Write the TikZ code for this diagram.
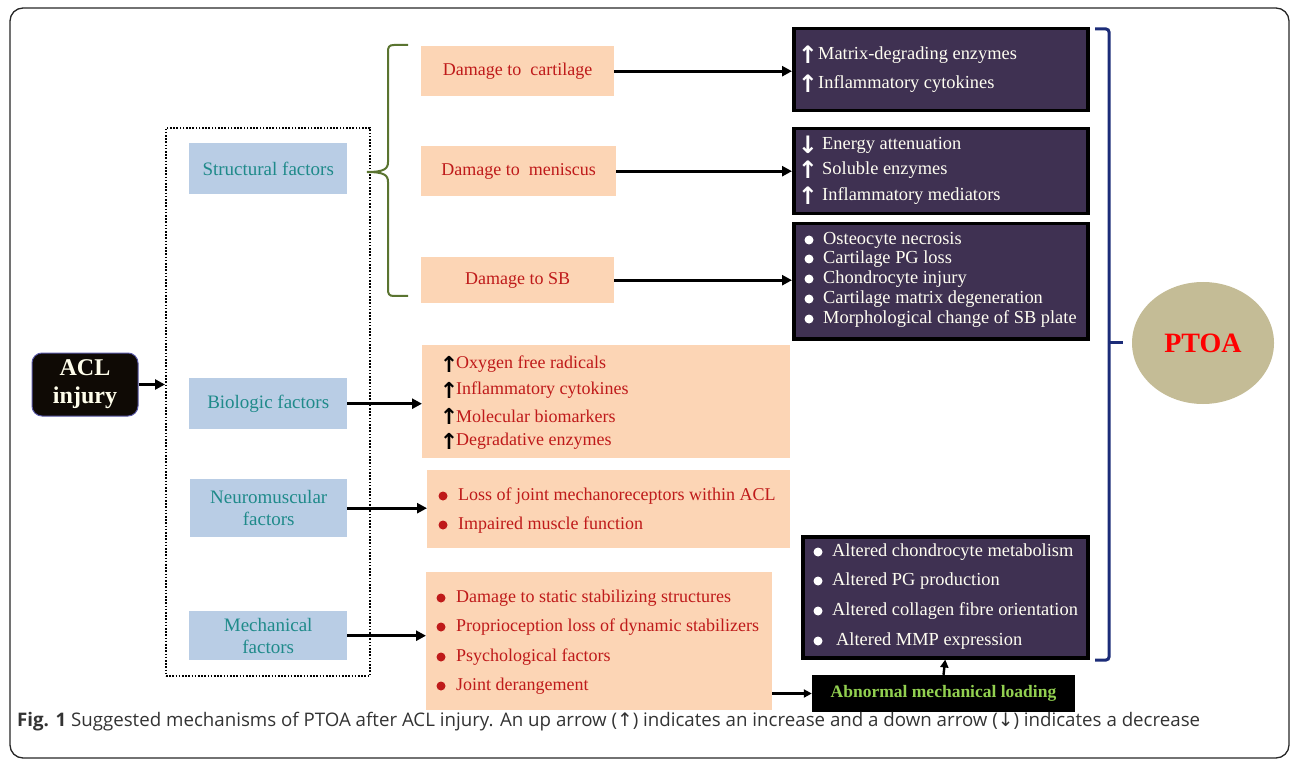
\documentclass[tikz,border=0pt]{standalone}
\usepackage{fontspec}
\setmainfont{Liberation Serif}
\setsansfont{Open Sans}
\newfontfamily\symf{DejaVu Sans}
\usetikzlibrary{arrows.meta,shapes.geometric}
\definecolor{peach}{HTML}{FCD5B5}
\definecolor{lblue}{HTML}{B9CDE5}
\definecolor{teal2}{HTML}{1F8A8A}
\definecolor{dred}{HTML}{BF1A1A}
\definecolor{dpurple}{HTML}{3F3152}
\definecolor{bgreen}{HTML}{5A7430}
\definecolor{navy}{HTML}{1C2C78}
\definecolor{khaki}{HTML}{C4BC96}
\definecolor{lgreen}{HTML}{92D050}
\definecolor{capgray}{HTML}{333333}
\begin{document}
\begin{tikzpicture}[x=1pt,y=-1pt,
  peachbox/.style={rectangle, fill=peach, inner sep=0, anchor=north west},
  bluebox/.style={rectangle, fill=lblue, inner sep=0, anchor=north west, text=teal2, align=center, font=\fontsize{19}{22}\selectfont},
  darkbox/.style={rectangle, fill=dpurple, draw=black, line width=3.5pt, inner sep=0, anchor=north west},
  rlabel/.style={text=dred, font=\fontsize{18}{20}\selectfont},
  wt/.style={text=white!95!yellow, anchor=west, inner sep=0, font=\fontsize{18.4}{20}\selectfont},
  rt/.style={text=dred, anchor=west, inner sep=0, font=\fontsize{18}{20}\selectfont},
  symw/.style={text=white, inner sep=0, font=\fontsize{24}{24}\symf\bfseries},
  symk/.style={text=black, inner sep=0, font=\fontsize{22}{22}\symf\bfseries},
  bulw/.style={circle, fill=white, inner sep=0, minimum size=9pt},
  bulr/.style={circle, fill=dred, inner sep=0, minimum size=9pt},
  arr/.style={line width=3pt, -{Triangle[length=10pt,width=10pt]}},
  sarr/.style={line width=2.4pt, -{Triangle[length=8pt,width=8pt]}}
]
\useasboundingbox (0,0) rectangle (1290,759);
\draw[line width=1.3pt, draw=black!85, rounded corners=13pt] (10,8) rectangle (1289,758);

% ACL injury
\node[rectangle, rounded corners=10pt, fill=black!92!brown, draw=blue!30!gray, line width=1pt,
  minimum width=106pt, minimum height=63pt, inner sep=0, text=white!92!yellow, align=center,
  font=\fontsize{24}{28}\selectfont\bfseries] (acl) at (85,384.5) {ACL\\injury};

% dotted group
\node[rectangle, draw=black, line width=1.8pt, dash pattern=on 1.6pt off 1.6pt,
  minimum width=204pt, minimum height=548pt, inner sep=0, anchor=north west] (grp) at (165,127) {};
\draw[arr] (acl.east) -- (acl.east -| grp.west);

% factor boxes
\node[bluebox, minimum width=158pt, minimum height=51pt] (st) at (189,143) {Structural factors};
\node[bluebox, minimum width=158pt, minimum height=51pt] (bio) at (189,378) {Biologic factors};
\node[bluebox, minimum width=157pt, minimum height=58pt] (neu) at (190,479) {Neuromuscular\\factors};
\node[bluebox, minimum width=158pt, minimum height=49pt] (mech) at (189,611) {Mechanical\\factors};

% green brace
\draw[bgreen, line width=2pt] (408,45) -- (394,45) .. controls (389,45) and (388,47) .. (388,52)
  -- (388,162) .. controls (388,169) and (384,172) .. (367,172)
  .. controls (384,172) and (388,175) .. (388,182)
  -- (388,289) .. controls (388,294) and (389,296) .. (394,296) -- (408,296);

% damage boxes
\node[peachbox, minimum width=193pt, minimum height=50pt] (dc) at (421,46) {};
\node[rlabel] (dct) at (dc.center) {Damage to\ \ cartilage};
\node[peachbox, minimum width=195pt, minimum height=50pt] (dm) at (421,146) {};
\node[rlabel] (dmt) at (dm.center) {Damage to\ \ meniscus};
\node[peachbox, minimum width=193pt, minimum height=46pt] (ds) at (421,257) {};
\node[rlabel] (dst) at (ds.center) {Damage to SB};

% dark boxes
\node[darkbox, minimum width=294pt, minimum height=82pt] (d1) at (792,27) {};
\node[darkbox, minimum width=294pt, minimum height=85pt] (d2) at (792,127) {};
\node[darkbox, minimum width=294pt, minimum height=115pt] (d3) at (792,222) {};
\node[darkbox, minimum width=285pt, minimum height=121pt] (d4) at (801,535) {};

\draw[arr] (dc.east) -- (dc.east -| d1.west);
\draw[arr] (dm.east) -- (dm.east -| d2.west);
\draw[arr] (ds.east) -- (ds.east -| d3.west);

% box 1 text
\node[symw] (a11) at (808,55) {↑};
\node[wt] (t11) at (818,55) {Matrix-degrading enzymes};
\node[symw] (a12) at (808,84) {↑};
\node[wt] (t12) at (818,84) {Inflammatory cytokines};
% box 2 text
\node[symw] (a21) at (808,145) {↓};
\node[wt] (t21) at (822,145) {Energy attenuation};
\node[symw] (a22) at (808,170) {↑};
\node[wt] (t22) at (822,170) {Soluble enzymes};
\node[symw] (a23) at (808,196) {↑};
\node[wt] (t23) at (822,196) {Inflammatory mediators};
% box 3 text
\node[bulw] (b31) at (809,240) {};
\node[wt] (t31) at (823,240) {Osteocyte necrosis};
\node[bulw] (b32) at (809,259) {};
\node[wt] (t32) at (823,259) {Cartilage PG loss};
\node[bulw] (b33) at (809,279) {};
\node[wt] (t33) at (823,279) {Chondrocyte injury};
\node[bulw] (b34) at (809,299) {};
\node[wt] (t34) at (823,299) {Cartilage matrix degeneration};
\node[bulw] (b35) at (809,319) {};
\node[wt] (t35) at (823,319) {Morphological change of SB plate};

% biologic box
\node[peachbox, minimum width=368pt, minimum height=113pt] (bb) at (422,345) {};
\node[symk] (a41) at (449,364) {↑};
\node[rt] (t41) at (456,364) {Oxygen free radicals};
\node[symk] (a42) at (449,390) {↑};
\node[rt] (t42) at (456,390) {Inflammatory cytokines};
\node[symk] (a43) at (449,416) {↑};
\node[rt] (t43) at (456,416) {Molecular biomarkers};
\node[symk] (a44) at (449,441) {↑};
\node[rt] (t44) at (456,441) {Degradative enzymes};

% neuromuscular box
\node[peachbox, minimum width=363pt, minimum height=78pt] (nb) at (427,470) {};
\node[bulr] (b51) at (443,496) {};
\node[rt] (t51) at (458,496) {Loss of joint mechanoreceptors within ACL};
\node[bulr] (b52) at (443,525) {};
\node[rt] (t52) at (458,525) {Impaired muscle function};

% mechanical box
\node[peachbox, minimum width=346pt, minimum height=138pt] (mb) at (426,572) {};
\node[bulr] (b61) at (441,598) {};
\node[rt] (t61) at (456,598) {Damage to static stabilizing structures};
\node[bulr] (b62) at (441,627) {};
\node[rt] (t62) at (456,627) {Proprioception loss of dynamic stabilizers};
\node[bulr] (b63) at (441,657) {};
\node[rt] (t63) at (456,657) {Psychological factors};
\node[bulr] (b64) at (441,686) {};
\node[rt] (t64) at (456,686) {Joint derangement};

\draw[arr] (bio.east) -- (bio.east -| bb.west);
\draw[arr] (neu.east) -- (neu.east -| nb.west);
\draw[arr] (mech.east) -- (mech.east -| mb.west);

% box 4 text
\node[bulw] (b71) at (818,552) {};
\node[wt] (t71) at (832,552) {Altered chondrocyte metabolism};
\node[bulw] (b72) at (818,581) {};
\node[wt] (t72) at (832,581) {Altered PG production};
\node[bulw] (b73) at (818,611) {};
\node[wt] (t73) at (832,611) {Altered collagen fibre orientation};
\node[bulw] (b74) at (818,641) {};
\node[wt] (t74) at (836,641) {Altered MMP expression};

% abnormal loading
\node[rectangle, fill=black, inner sep=0, minimum width=263pt, minimum height=37pt,
  text=lgreen, font=\fontsize{17.5}{20}\selectfont\bfseries] (abn) at (943.5,693.5) {Abnormal mechanical loading};
\draw[sarr] (mb.east |- abn.west) -- (abn.west);
\draw[sarr] (abn.north) -- (d4.south);

% blue bracket
\draw[navy, line width=3pt, rounded corners=3pt] (1095,29) -- (1109,29) -- (1109,660) -- (1095,660);
\draw[navy, line width=3pt] (1109,342) -- (1123,342);

% PTOA
\node[ellipse, fill=khaki, minimum width=142pt, minimum height=122pt, inner sep=0,
  text=red, font=\fontsize{28}{30}\selectfont\bfseries] (ptoa) at (1203,343) {PTOA};

% caption
\node[anchor=west, inner sep=0, text=capgray, font=\sffamily\fontsize{18.7}{20}\selectfont] (cap) at (17,722)
  {\textbf{Fig. 1} Suggested mechanisms of PTOA after ACL injury. An up arrow ({\symf ↑}) indicates an increase and a down arrow ({\symf ↓}) indicates a decrease};
\end{tikzpicture}
\end{document}
